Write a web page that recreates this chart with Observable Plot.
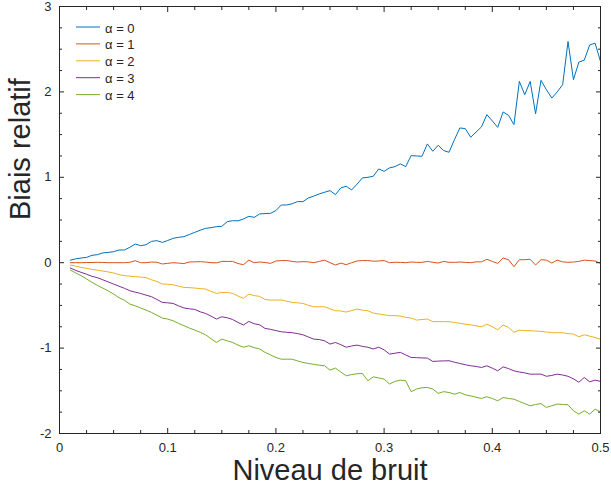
<!DOCTYPE html>
<html><head><meta charset="utf-8">
<script src="https://cdn.jsdelivr.net/npm/d3@7"></script>
<script src="https://cdn.jsdelivr.net/npm/@observablehq/plot@0.6"></script>
<style>body{margin:0;background:#fff}</style>
</head><body><div id="chart"></div>
<script>
const noise = [0.01,0.015,0.02,0.025,0.03,0.035,0.04,0.045,0.05,0.055,
0.06,0.065,0.07,0.075,0.08,0.085,0.09,0.095,0.1,0.105,
0.11,0.115,0.12,0.125,0.13,0.135,0.14,0.145,0.15,0.155,
0.16,0.165,0.17,0.175,0.18,0.185,0.19,0.195,0.2,0.205,
0.21,0.215,0.22,0.225,0.23,0.235,0.24,0.245,0.25,0.255,
0.26,0.265,0.27,0.275,0.28,0.285,0.29,0.295,0.3,0.305,
0.31,0.315,0.32,0.325,0.33,0.335,0.34,0.345,0.35,0.355,
0.36,0.365,0.37,0.375,0.38,0.385,0.39,0.395,0.4,0.405,
0.41,0.415,0.42,0.425,0.43,0.435,0.44,0.445,0.45,0.455,
0.46,0.465,0.47,0.475,0.48,0.485,0.49,0.495,0.5];

const alpha0 = [0.03,0.045,0.055,0.062,0.086,0.094,0.115,0.12,0.129,0.149,
0.149,0.18,0.219,0.199,0.211,0.25,0.258,0.238,0.26,0.285,
0.297,0.305,0.33,0.355,0.38,0.402,0.41,0.422,0.426,0.48,
0.492,0.49,0.512,0.543,0.531,0.571,0.575,0.578,0.61,0.676,
0.676,0.69,0.715,0.715,0.758,0.78,0.805,0.825,0.844,0.797,
0.876,0.895,0.852,0.92,0.993,1.0,1.012,1.098,1.07,1.11,
1.125,1.157,1.125,1.254,1.25,1.246,1.391,1.305,1.375,1.313,
1.293,1.44,1.578,1.57,1.469,1.53,1.59,1.734,1.66,1.585,
1.765,1.726,1.617,2.123,1.967,2.123,1.745,2.135,2.026,1.928,
2.0,2.084,2.59,2.143,2.349,2.372,2.55,2.571,2.357];

const alpha1 = [0.0,0.0,0.0,0.002,0.002,0.005,0.003,0.0,0.0,0.0,
0.0,0.005,0.023,0.0,0.0,0.008,0.005,-0.015,-0.008,0.0,
-0.005,-0.01,0.008,0.01,0.012,0.008,0.0,-0.002,0.015,0.015,
0.015,-0.01,-0.023,0.03,0.0,0.008,0.002,-0.008,0.02,0.025,
0.025,0.015,0.008,0.012,0.01,0.0,0.015,0.03,0.0,-0.027,
-0.005,-0.023,0.0,0.02,0.025,0.025,0.018,0.02,0.025,0.0,
0.005,0.004,0.0,0.008,0.004,0.004,0.015,0.005,-0.004,0.015,
0.005,0.004,0.008,0.004,0.0,0.01,0.01,0.04,0.015,-0.008,
0.055,0.035,-0.047,0.035,0.035,0.04,-0.027,0.035,0.03,-0.004,
0.03,0.01,0.005,0.008,0.015,0.03,0.025,0.02,-0.008];

const alpha2 = [-0.027,-0.04,-0.055,-0.066,-0.078,-0.088,-0.098,-0.108,-0.12,-0.14,
-0.152,-0.158,-0.164,-0.168,-0.175,-0.2,-0.22,-0.25,-0.252,-0.258,
-0.275,-0.289,-0.292,-0.297,-0.303,-0.309,-0.335,-0.36,-0.348,-0.348,
-0.36,-0.39,-0.418,-0.367,-0.385,-0.395,-0.43,-0.4375,-0.437,-0.4375,
-0.45,-0.465,-0.47,-0.477,-0.5,-0.516,-0.516,-0.516,-0.54,-0.5625,
-0.565,-0.578,-0.56,-0.543,-0.555,-0.5625,-0.59,-0.6,-0.61,-0.62,
-0.62,-0.625,-0.64,-0.648,-0.672,-0.665,-0.66,-0.69,-0.69,-0.69,
-0.69,-0.7,-0.71,-0.72,-0.727,-0.74,-0.75,-0.72,-0.75,-0.785,
-0.73,-0.758,-0.816,-0.79,-0.795,-0.797,-0.8,-0.805,-0.812,-0.82,
-0.82,-0.82,-0.83,-0.836,-0.867,-0.844,-0.86,-0.875,-0.895];

const alpha3 = [-0.0625,-0.09,-0.113,-0.135,-0.16,-0.175,-0.2,-0.225,-0.25,-0.275,
-0.3,-0.328,-0.345,-0.36,-0.38,-0.398,-0.43,-0.465,-0.47,-0.477,
-0.505,-0.53,-0.54,-0.547,-0.575,-0.594,-0.625,-0.66,-0.633,-0.645,
-0.665,-0.7,-0.73,-0.6875,-0.715,-0.727,-0.77,-0.78,-0.795,-0.809,
-0.815,-0.82,-0.83,-0.844,-0.87,-0.895,-0.9,-0.914,-0.953,-0.934,
-0.96,-0.99,-0.975,-0.965,-0.98,-0.99,-1.01,-0.99,-1.02,-1.07,
-1.06,-1.05,-1.08,-1.11,-1.112,-1.115,-1.117,-1.156,-1.152,-1.15,
-1.148,-1.165,-1.18,-1.195,-1.207,-1.215,-1.227,-1.207,-1.235,-1.266,
-1.22,-1.24,-1.266,-1.28,-1.29,-1.305,-1.305,-1.305,-1.33,-1.32,
-1.305,-1.315,-1.33,-1.36,-1.4,-1.344,-1.395,-1.375,-1.39];

const alpha4 = [-0.086,-0.12,-0.152,-0.19,-0.23,-0.265,-0.297,-0.33,-0.367,-0.41,
-0.44,-0.484,-0.505,-0.53,-0.555,-0.582,-0.615,-0.648,-0.66,-0.68,
-0.71,-0.738,-0.765,-0.789,-0.815,-0.844,-0.89,-0.934,-0.895,-0.915,
-0.934,-0.965,-0.99,-0.973,-0.995,-1.01,-1.05,-1.08,-1.11,-1.13,
-1.13,-1.13,-1.15,-1.168,-1.18,-1.19,-1.2,-1.207,-1.258,-1.234,
-1.28,-1.324,-1.31,-1.3,-1.297,-1.383,-1.336,-1.35,-1.363,-1.42,
-1.39,-1.375,-1.383,-1.51,-1.48,-1.465,-1.46,-1.48,-1.53,-1.51,
-1.52,-1.54,-1.52,-1.547,-1.56,-1.575,-1.59,-1.57,-1.59,-1.617,
-1.578,-1.59,-1.598,-1.625,-1.65,-1.676,-1.66,-1.65,-1.695,-1.675,
-1.656,-1.66,-1.664,-1.734,-1.773,-1.734,-1.773,-1.715,-1.746];

const seriesNames = ["α = 0","α = 1","α = 2","α = 3","α = 4"];
const colors = ["#0072BD","#D95319","#EDB120","#7E2F8E","#77AC30"];
const xTicks = [0,0.1,0.2,0.3,0.4,0.5];
const xTickLabels = ["0","0.1","0.2","0.3","0.4","0.5"];
const yTicks = [-2,-1,0,1,2,3];
const yTickLabels = ["-2","-1","0","1","2","3"];
const xLabel = "Niveau de bruit";
const yLabel = "Biais relatif";

const allSeries = [alpha0, alpha1, alpha2, alpha3, alpha4];
const rows = allSeries.flatMap((vals, s) => vals.map((v, i) => ({x: noise[i], y: v, s: seriesNames[s]})));

const xMinor = d3.range(0, 0.5001, 0.025).filter(v => !xTicks.some(t => Math.abs(t - v) < 1e-9));
const yMinor = d3.range(-2, 3.001, 0.25).filter(v => !yTicks.some(t => Math.abs(t - v) < 1e-9));

const ink = "#262626";
const font = "'Liberation Sans', Arial, Helvetica, sans-serif";
const W = 611, H = 497, mL = 59, mR = 11, mT = 6, mB = 64;
const major = 5, minor = 3;
const blank = () => "";

const chart = Plot.plot({
  width: W, height: H,
  marginLeft: mL, marginRight: mR, marginTop: mT, marginBottom: mB,
  style: {background: "white", color: ink, fontFamily: font, fontSize: "13px", overflow: "visible"},
  x: {domain: [0, 0.5]},
  y: {domain: [-2, 3]},
  color: {domain: seriesNames, range: colors},
  marks: [
    Plot.line(rows, {x: "x", y: "y", z: "s", stroke: "s", strokeWidth: 1}),
    // inward major ticks on four sides
    Plot.axisX(xTicks, {anchor: "bottom", tickSize: major, dy: -major, tickFormat: blank, label: null}),
    Plot.axisX(xTicks, {anchor: "top", tickSize: major, dy: major, tickFormat: blank, label: null}),
    Plot.axisY(yTicks, {anchor: "left", tickSize: major, dx: major, tickFormat: blank, label: null}),
    Plot.axisY(yTicks, {anchor: "right", tickSize: major, dx: -major, tickFormat: blank, label: null}),
    // inward minor ticks
    Plot.axisX(xMinor, {anchor: "bottom", tickSize: minor, dy: -minor, tickFormat: blank, label: null}),
    Plot.axisX(xMinor, {anchor: "top", tickSize: minor, dy: minor, tickFormat: blank, label: null}),
    Plot.axisY(yMinor, {anchor: "left", tickSize: minor, dx: minor, tickFormat: blank, label: null}),
    Plot.axisY(yMinor, {anchor: "right", tickSize: minor, dx: -minor, tickFormat: blank, label: null}),
    // tick labels
    Plot.axisX(xTicks, {anchor: "bottom", tickSize: 0, tickPadding: 9, fontSize: 13,
      tickFormat: d => xTickLabels[xTicks.indexOf(d)], label: null}),
    Plot.axisY(yTicks, {anchor: "left", tickSize: 0, tickPadding: 8, fontSize: 13,
      tickFormat: d => yTickLabels[yTicks.indexOf(d)], label: null}),
    Plot.frame({stroke: ink, strokeWidth: 1}),
    Plot.text([xLabel], {frameAnchor: "bottom", dy: 46, text: d => d, fontSize: 29, fill: ink}),
    Plot.text([yLabel], {frameAnchor: "left", dx: -39, rotate: -90, text: d => d, fontSize: 29, fill: ink})
  ]
});

// legend inside the axes, top-left (no box)
const svg = d3.select(chart);
const lg = svg.append("g").attr("font-family", font).attr("font-size", 13)
  .attr("fill", ink).attr("text-anchor", "start");
seriesNames.forEach((name, i) => {
  const y = mT + 21 + 16.9 * i;
  lg.append("line").attr("x1", mL + 17).attr("x2", mL + 41).attr("y1", y).attr("y2", y)
    .attr("stroke", colors[i]).attr("stroke-width", 1);
  lg.append("text").attr("x", mL + 46).attr("y", y + 1).attr("dy", "0.35em").text(name);
});

document.getElementById("chart").appendChild(chart);
</script>
</body></html>
